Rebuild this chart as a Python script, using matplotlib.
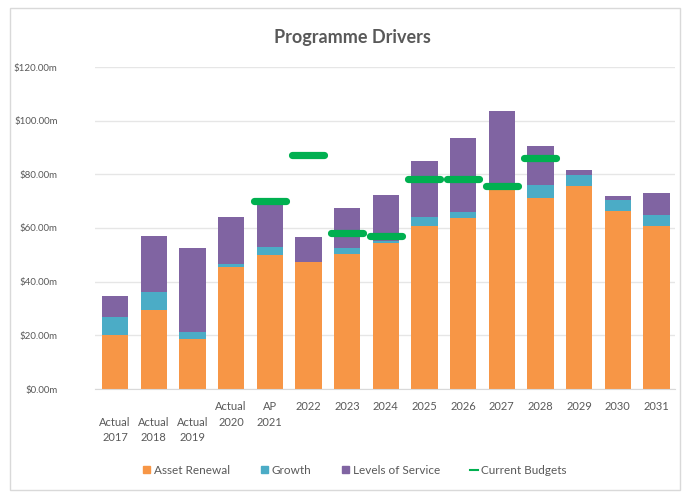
import matplotlib
matplotlib.use('Agg')
import matplotlib.pyplot as plt
from matplotlib.patches import Rectangle, Patch
from matplotlib.lines import Line2D
from matplotlib.markers import MarkerStyle
import numpy as np

plt.rcParams['font.family'] = ['Lato', 'DejaVu Sans']

years = ['\nActual\n2017', '\nActual\n2018', '\nActual\n2019', 'Actual\n2020', 'AP\n2021',
         '2022', '2023', '2024', '2025', '2026', '2027', '2028', '2029', '2030', '2031']
asset_renewal = [20.1, 29.4, 18.8, 45.5, 50.0, 47.3, 50.3, 54.4, 60.8, 63.7, 74.2, 71.2, 75.7, 66.3, 60.8]
growth = [6.7, 6.7, 2.4, 1.1, 3.0, 0.0, 2.2, 0.6, 3.2, 2.3, 0.5, 4.8, 4.1, 4.1, 4.0]
levels_of_service = [7.9, 20.9, 31.3, 17.6, 16.7, 9.4, 15.0, 17.3, 21.0, 27.5, 28.9, 14.5, 1.8, 1.6, 8.2]
# budgets only exist for 2021..2028
current_budgets = [None, None, None, None, 70.0, 87.2, 58.0, 57.0, 78.3, 78.3, 75.7, 86.2, None, None, None]

c_orange = '#F79646'
c_growth = '#4BACC6'
c_purple = '#8064A2'
c_green = '#00B050'
grey_txt = '#595959'

fig = plt.figure(figsize=(6.84, 4.92), dpi=100)
fig.patches.append(Rectangle((10/684, 2/492), 670/684, 482/492, transform=fig.transFigure,
                             fill=False, edgecolor='#D9D9D9', linewidth=1))
ax = fig.add_axes([95/684, 103/492, 580/684, 322/492])

x = np.arange(len(years))
a = np.array(asset_renewal)
g = np.array(growth)
l = np.array(levels_of_service)
ax.bar(x, a, width=0.68, color=c_orange, zorder=2)
ax.bar(x, g, width=0.68, bottom=a, color=c_growth, zorder=2)
ax.bar(x, l, width=0.68, bottom=a + g, color=c_purple, zorder=2)

bx = [i for i, v in enumerate(current_budgets) if v is not None]
by = [v for v in current_budgets if v is not None]
ax.plot(bx, by, linestyle='none', marker=MarkerStyle('_', capstyle='round'),
        markersize=23, markeredgewidth=5.2, color=c_green, zorder=3)

ax.set_ylim(0, 120)
ax.set_xlim(-0.52, 14.48)
ax.set_yticks(np.arange(0, 121, 20))
ax.set_yticklabels([f'${v:.2f}m' for v in np.arange(0, 121, 20)], fontsize=7, color=grey_txt)
ax.set_xticks(x)
ax.set_xticklabels(years, fontsize=8, color=grey_txt, linespacing=1.45)
ax.tick_params(length=0, pad=9)
ax.tick_params(axis='y', pad=27)
ax.grid(axis='y', color='#E6E6E6', linewidth=1, zorder=0)
for s in ['top', 'right', 'left']:
    ax.spines[s].set_visible(False)
ax.spines['bottom'].set_color('#D9D9D9')

fig.text(352/684, 1 - 37/492, 'Programme Drivers', ha='center', va='center',
         fontsize=13, color=grey_txt, fontweight='bold')

handles = [Patch(color=c_orange), Patch(color=c_growth), Patch(color=c_purple),
           Line2D([], [], color=c_green, lw=1.5)]
labels = ['Asset Renewal', 'Growth', 'Levels of Service', 'Current Budgets']
leg = fig.legend(handles, labels, loc='center', bbox_to_anchor=(355/684, 1 - 470/492), ncol=4,
                 frameon=False, fontsize=8.5, handlelength=0.6, handleheight=0.6,
                 handletextpad=0.3, columnspacing=2.6)
for t in leg.get_texts():
    t.set_color(grey_txt)

plt.savefig('out.png', dpi=100)
